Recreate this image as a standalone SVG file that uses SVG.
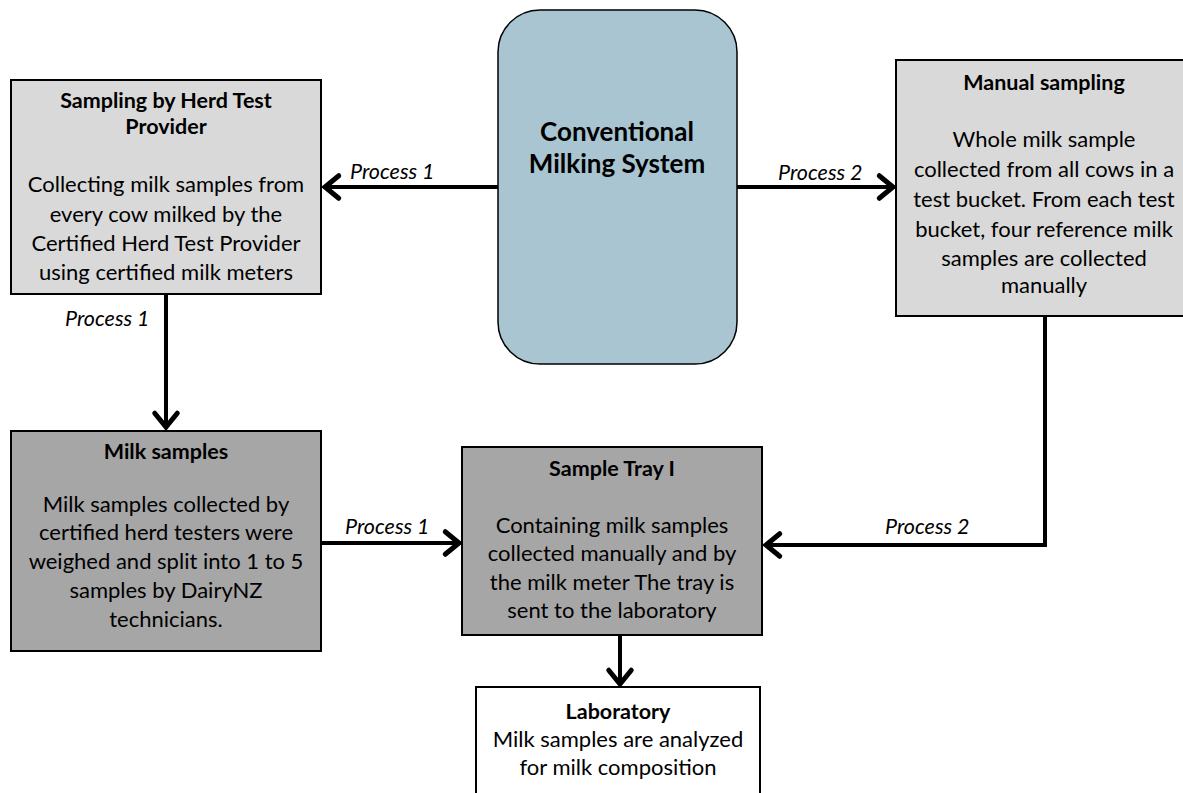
<svg xmlns="http://www.w3.org/2000/svg" width="1183" height="793" viewBox="0 0 1183 793">
<defs>
<style>
.box{stroke:#000;stroke-width:2}
.t{font-family:Lato,"Open Sans",sans-serif;font-size:22px;fill:#000;text-anchor:middle}
.b{font-weight:bold;font-size:21.5px}
.big{font-weight:bold;font-size:26px}
.lbl{font-family:Lato,"Open Sans",sans-serif;font-size:21.5px;font-style:italic;fill:#000}
.c{fill:none;stroke:#000;stroke-width:4}
</style>
<marker id="ah" markerUnits="userSpaceOnUse" markerWidth="30" markerHeight="30" viewBox="-14 -12 20 24" refX="0" refY="0" orient="auto">
<path d="M-11,-9 L0,0 L-11,9" fill="none" stroke="#000" stroke-width="4" stroke-linecap="round" stroke-linejoin="miter"/>
</marker>
</defs>
<rect width="1183" height="793" fill="#fff"/>

<g id="herd">
<rect class="box" x="11" y="80" width="310" height="214" fill="#d9d9d9"/>
<text class="t b" x="166" y="108">Sampling  by Herd Test</text>
<text class="t b" x="166" y="134">Provider</text>
<text class="t" x="166" y="192">Collecting milk samples from</text>
<text class="t" x="166" y="222">every cow milked by the</text>
<text class="t" x="166" y="251">Certified Herd Test Provider</text>
<text class="t" x="166" y="280">using certified milk meters</text>
</g>

<g id="cms">
<rect x="498" y="10" width="239" height="354" rx="42" ry="42" fill="#a8c5d1" stroke="#000" stroke-width="1.5"/>
<text class="t big" x="617" y="141">Conventional</text>
<text class="t big" x="617" y="173">Milking System</text>
</g>

<g id="manual">
<rect class="box" x="896" y="60" width="290" height="256" fill="#d9d9d9"/>
<text class="t b" x="1044" y="90">Manual sampling</text>
<text class="t" x="1044" y="147">Whole milk sample</text>
<text class="t" x="1044" y="177">collected from all cows in a</text>
<text class="t" x="1044" y="207">test bucket. From each test</text>
<text class="t" x="1044" y="237">bucket, four reference milk</text>
<text class="t" x="1044" y="266">samples are collected</text>
<text class="t" x="1044" y="293">manually</text>
</g>

<g id="milk">
<rect class="box" x="11" y="431" width="310" height="220" fill="#a6a6a6"/>
<text class="t b" x="166" y="459">Milk samples</text>
<text class="t" x="166" y="512">Milk samples collected by</text>
<text class="t" x="166" y="540">certified herd testers were</text>
<text class="t" x="166" y="569">weighed and split into 1 to 5</text>
<text class="t" x="166" y="598">samples by DairyNZ</text>
<text class="t" x="166" y="627">technicians.</text>
</g>

<g id="tray">
<rect class="box" x="462" y="447" width="300" height="188" fill="#a6a6a6"/>
<text class="t b" x="612" y="476">Sample Tray I</text>
<text class="t" x="612" y="533">Containing milk samples</text>
<text class="t" x="612" y="561">collected manually and by</text>
<text class="t" x="612" y="590">the milk meter The tray is</text>
<text class="t" x="612" y="618">sent to the laboratory</text>
</g>

<g id="lab">
<rect class="box" x="476" y="687" width="284" height="110" fill="#fff"/>
<text class="t b" x="618" y="719">Laboratory</text>
<text class="t" x="618" y="747">Milk samples are analyzed</text>
<text class="t" x="618" y="775">for milk composition</text>
</g>

<g id="connectors">
<line class="c" x1="498" y1="187" x2="325" y2="187" marker-end="url(#ah)"/>
<line class="c" x1="737" y1="187" x2="893" y2="187" marker-end="url(#ah)"/>
<line class="c" x1="166" y1="294" x2="166" y2="427" marker-end="url(#ah)"/>
<line class="c" x1="321" y1="543" x2="459" y2="543" marker-end="url(#ah)"/>
<polyline class="c" points="1045,316 1045,545 766,545" marker-end="url(#ah)"/>
<line class="c" x1="620" y1="635" x2="620" y2="684" marker-end="url(#ah)"/>
<text class="lbl" x="350" y="179">Process 1</text>
<text class="lbl" x="778" y="180">Process 2</text>
<text class="lbl" x="65" y="326">Process 1</text>
<text class="lbl" x="345" y="534">Process 1</text>
<text class="lbl" x="885" y="534">Process 2</text>
</g>
</svg>
